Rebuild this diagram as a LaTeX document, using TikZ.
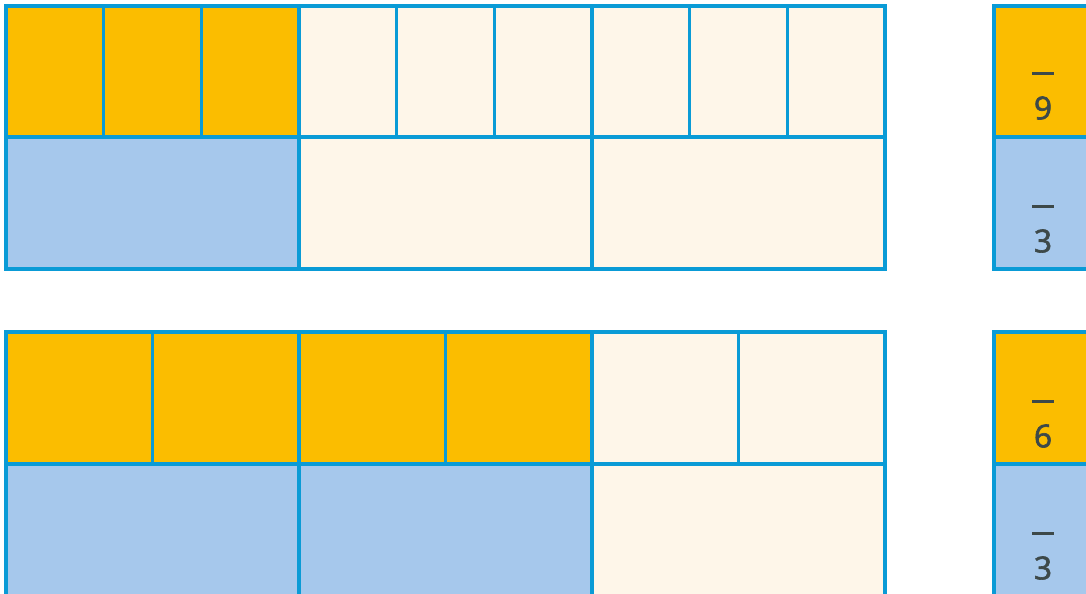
\documentclass[tikz,border=0pt]{standalone}
\usepackage{fontspec}
\setmainfont{Open Sans}
\newfontfamily\labelfont[FakeBold=2]{Open Sans}
\definecolor{gridblue}{HTML}{0A9BD6}
\definecolor{partorange}{HTML}{FBBD00}
\definecolor{partblue}{HTML}{A6C8EC}
\definecolor{paper}{HTML}{FEF6E9}
\definecolor{labelgray}{HTML}{3D4949}

\begin{document}
\begin{tikzpicture}[
			x=0.02cm, y=-0.02cm,
			cell/.style={draw=gridblue, line width=0.05cm},
			part/.style={draw=gridblue, line width=0.065cm},
			fraclabel/.style={text=labelgray, font=\labelfont\fontsize{18}{21}\selectfont, align=center, inner sep=0pt, anchor=south}
			]
			\useasboundingbox (0,0) rectangle (1086,594);
			\clip (0,0) rectangle (1086,594);
			
			% Upper strip: ninths over thirds
			\foreach \i in {0,1,2}
				\filldraw[cell, fill=partorange] ({6+\i*97.67},6) rectangle ({6+(\i+1)*97.67},137);
			\foreach \i in {3,...,8}
				\filldraw[cell, fill=paper] ({6+\i*97.67},6) rectangle ({6+(\i+1)*97.67},137);
			\filldraw[part, fill=partblue] (6,137) rectangle (298.7,269);
			\foreach \i in {1,2}
				\filldraw[part, fill=paper] ({6+\i*293},137) rectangle ({6+(\i+1)*293},269);
			\draw[part] (6,6) rectangle (885,269);
			\draw[part] (6,137) -- (885,137);
			\foreach \x in {299,592}
				\draw[part] (\x,6) -- (\x,269);
			
			% Lower strip: sixths over thirds
			\foreach \i in {0,...,3}
				\filldraw[cell, fill=partorange] ({6+\i*146.5},332) rectangle ({6+(\i+1)*146.5},464);
			\foreach \i in {4,5}
				\filldraw[cell, fill=paper] ({6+\i*146.5},332) rectangle ({6+(\i+1)*146.5},464);
			\foreach \i in {0,1}
				\filldraw[part, fill=partblue] ({6+\i*293},464) rectangle ({6+(\i+1)*293},610);
			\filldraw[part, fill=paper] (592,464) rectangle (885,610);
			\draw[part] (6,332) rectangle (885,610);
			\draw[part] (6,464) -- (885,464);
			\foreach \x in {299,592}
				\draw[part] (\x,332) -- (\x,610);
			
			% Fraction boxes on the right
			\filldraw[part, fill=partorange] (994,6) rectangle (1100,137);
			\filldraw[part, fill=partblue] (994,137) rectangle (1100,269);
			\filldraw[part, fill=partorange] (994,332) rectangle (1100,464);
			\filldraw[part, fill=partblue] (994,464) rectangle (1100,610);
			
			% Fraction labels
			\node[fraclabel] (ninths) at (1043,120) {\rule[0.15cm]{0.43cm}{0.065cm}\\9};
			\node[fraclabel] (thirdsA) at (1043,253) {\rule[0.15cm]{0.43cm}{0.065cm}\\3};
			\node[fraclabel] (sixths) at (1043,448) {\rule[0.15cm]{0.43cm}{0.065cm}\\6};
			\node[fraclabel] (thirdsB) at (1043,580) {\rule[0.15cm]{0.43cm}{0.065cm}\\3};
		\end{tikzpicture}
\end{document}
